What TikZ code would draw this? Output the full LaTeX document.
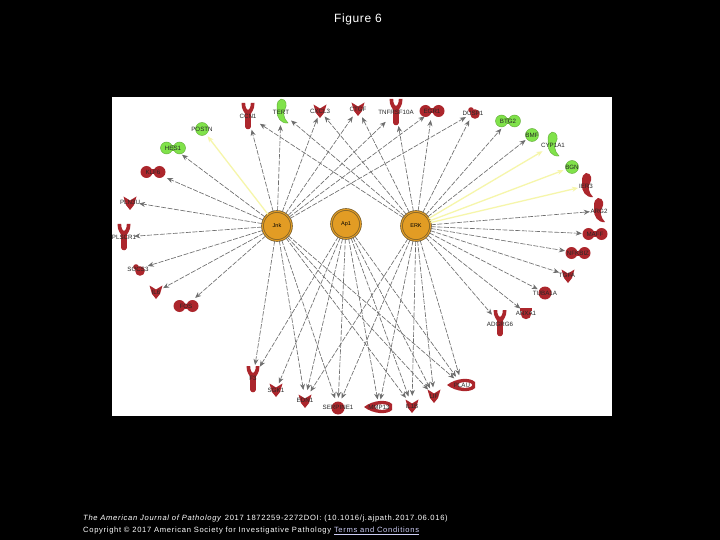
\documentclass[tikz,border=0pt]{standalone}
\usepackage{fontspec}
\setmainfont{Liberation Sans}
\usepackage{xcolor}
\usetikzlibrary{arrows.meta}
\definecolor{genered}{RGB}{172,38,44}
\definecolor{genegreen}{RGB}{128,226,74}
\definecolor{hubfill}{RGB}{226,156,36}
\definecolor{hubring}{RGB}{128,98,40}
\definecolor{softyellow}{RGB}{246,246,170}
\definecolor{arrgray}{RGB}{110,110,110}
\definecolor{linklav}{RGB}{205,205,245}

\begin{document}
\begin{tikzpicture}[x=1pt,y=-1pt,
  hub/.style={circle,draw=hubring,double=hubfill,double distance=1pt,line width=0.8pt,fill=hubfill,minimum size=29pt,inner sep=0pt,font=\fontsize{5.5}{6}\selectfont},
  gene/.style={circle,minimum size=#1,inner sep=0pt},
  lbl/.style={font=\fontsize{6.2}{7}\selectfont,text=black!85,inner sep=0pt},
  red/.style={fill=genered},
  grn/.style={fill=genegreen,draw=genegreen!75!black,line width=0.4pt},
  arr/.style={-{Stealth[length=6pt,width=5pt]},arrgray,line width=0.65pt,dash pattern=on 5pt off 1.5pt},
  yarr/.style={-{Stealth[length=6pt,width=5pt]},softyellow,line width=1.3pt},
  foot/.style={anchor=west,inner sep=0pt,text=white,font=\fontsize{7.6}{9}\selectfont\addfontfeature{LetterSpace=9}},
  ystem/.pic={\path[pic actions] (-6.5,-13) .. controls (-6.5,-6) and (-3.5,-4) .. (-2.8,-2) -- (-2.8,11) .. controls (-2.5,14) and (2.5,14) .. (2.8,11) -- (2.8,-2) .. controls (3.5,-4) and (6.5,-6) .. (6.5,-13) -- (2.8,-13) .. controls (2.8,-8) and (1,-6) .. (0,-6) .. controls (-1,-6) and (-2.8,-8) .. (-2.8,-13) -- cycle;},
  vee/.pic={\path[pic actions] (-6.5,-6.5) -- (0,-2.5) -- (6.5,-6.5) -- (4,2) -- (0,7) -- (-4,2) -- cycle;},
  crescent/.pic={\path[pic actions] (0,-13) .. controls (6,-13) and (6,-6) .. (4,-3) .. controls (2,0) and (2,6) .. (7,11) .. controls (0,12) and (-5,5) .. (-4,-2) .. controls (-3,-5) and (-6,-10) .. (0,-13) -- cycle;},
  dimer/.pic={\path[pic actions] (-6.5,-2.5) rectangle (6.5,2.5); \path[pic actions] (-6.5,0) circle[radius=6]; \path[pic actions] (6.5,0) circle[radius=6];},
  blob/.pic={\path[pic actions] (0,0) circle[radius=6.5];},
  knob/.pic={\path[pic actions] (1,1) circle[radius=4.8]; \path[pic actions] (-3,-3) circle[radius=2.8];},
  capped/.pic={\path[pic actions] (0,1) circle[radius=5.2]; \path[pic actions] (-6,-5) rectangle (6,-2);},
  lens/.pic={\path[pic actions] (-15,0) .. controls (-6,-7) and (8,-8) .. (13,-3) -- (13,3) .. controls (8,8) and (-6,7) .. (-15,0) -- cycle; \fill[white] (3,0) ellipse[x radius=7,y radius=2.8];}
]
\useasboundingbox (0,0) rectangle (720,540);
\fill[black] (0,0) rectangle (720,540);
\fill[white] (112,97) rectangle (612,416);
\node[text=white,font=\fontsize{12}{14}\selectfont\addfontfeature{LetterSpace=5},inner sep=0pt] (title) at (358,19) {Figure 6};

% hubs
\node[hub] (jnk) at (277,226) {Jnk};
\node[hub] (ap1) at (346,224) {Ap1};
\node[hub] (erk) at (416,226) {ERK};

% genes along the top
\pic[grn] at (202,129) {blob};
\node[gene=18pt,label={[lbl]center:POSTN}] (postn) at (202,129) {};
\pic[grn] at (173,148) {dimer};
\node[gene=22pt,label={[lbl]center:HES1}] (hes1) at (173,148) {};
\pic[red] at (153,172) {dimer};
\node[gene=30pt,label={[lbl]center:KLF6}] (klf6) at (153,172) {};
\pic[red] at (248,116) {ystem};
\node[gene=28pt,label={[lbl]center:CCN1}] (ccn1) at (248,116) {};
\pic[grn] at (281,112) {crescent};
\node[gene=26pt,label={[lbl]center:TERT}] (tert) at (281,112) {};
\pic[red] at (320,111) {vee};
\node[gene=14pt,label={[lbl]center:CXCL3}] (cxcl3) at (320,111) {};
\pic[red] at (358,109) {vee};
\node[gene=18pt,label={[lbl]center:CTGF}] (ctgf) at (358,109) {};
\pic[red] at (396,112) {ystem};
\node[gene=28pt,label={[lbl]center:TNFRSF10A}] (tnfrsf) at (396,112) {};
\pic[red] at (432,111) {dimer};
\node[gene=18pt,label={[lbl]center:EGR1}] (egr1) at (432,111) {};
\pic[red] at (474,113) {knob};
\node[gene=16pt,label={[lbl]center:DUSP1}] (dusp1) at (473,113) {};

% genes on the right
\pic[grn] at (508,121) {dimer};
\node[gene=20pt,label={[lbl]center:BTG2}] (btg2) at (508,121) {};
\pic[grn] at (532,135) {blob};
\node[gene=16pt,label={[lbl]center:BMF}] (bmf) at (532,135) {};
\pic[grn] at (552,145) {crescent};
\node[gene=24pt,label={[lbl]center:CYP1A1}] (cyp1a1) at (553,145) {};
\pic[grn] at (572,167) {blob};
\node[gene=18pt,label={[lbl]center:BGN}] (bgn) at (572,167) {};
\pic[red] at (586,186) {crescent};
\node[gene=16pt,label={[lbl]center:IER3}] (ier3) at (586,186) {};
\pic[red] at (598,211) {crescent};
\node[gene=18pt,label={[lbl]center:ARG2}] (arg2) at (599,211) {};
\pic[red] at (595,234) {dimer};
\node[gene=26pt,label={[lbl]center:MAFF}] (maff) at (595,234) {};
\pic[red] at (578,253) {dimer};
\node[gene=26pt,label={[lbl]center:NFKBIZ}] (nfkbiz) at (578,253) {};
\pic[red] at (568,276) {vee};
\node[gene=16pt,label={[lbl]center:TGFA}] (tgfa) at (567,275) {};
\pic[red] at (545,293) {blob};
\node[gene=16pt,label={[lbl]center:TUBA1A}] (tuba1a) at (545,293) {};
\pic[red] at (526,313) {capped};
\node[gene=14pt,label={[lbl]center:ANXA1}] (anxa1) at (526,313) {};
\pic[red] at (500,323) {ystem};
\node[gene=24pt,label={[lbl]center:ADGRG6}] (adgrg6) at (500,324) {};

% genes along the bottom
\pic[red] at (462,385) {lens};
\node[gene=20pt,label={[lbl]center:PLAU}] (plau) at (462,385) {};
\pic[red] at (434,396) {vee};
\node[gene=17pt,label={[lbl]center:LIF}] (lif) at (434,396) {};
\pic[red] at (412,406) {vee};
\node[gene=20pt,label={[lbl]center:IL1B}] (il1b) at (412,406) {};
\pic[red] at (379,407) {lens};
\node[gene=15pt,label={[lbl]center:MMP13}] (mmp13) at (379,407) {};
\pic[red] at (338,408) {blob};
\node[gene=18pt,label={[lbl]center:SERPINE1}] (serpine1) at (338,407) {};
\pic[red] at (305,401) {vee};
\node[gene=20pt,label={[lbl]center:EDN1}] (edn1) at (305,400) {};
\pic[red] at (276,390) {vee};
\node[gene=14pt,label={[lbl]center:SGK1}] (sgk1) at (276,390) {};
\pic[red] at (253,379) {ystem};
\node[gene=26pt,label={[lbl]center:F3}] (f3) at (253,378) {};

% genes on the left
\pic[red] at (186,306) {dimer};
\node[gene=24pt,label={[lbl]center:FOS}] (fos) at (186,306) {};
\pic[red] at (156,292) {vee};
\node[gene=16pt,label={[lbl]center:IL6}] (il6) at (156,292) {};
\pic[red] at (139,270) {knob};
\node[gene=20pt,label={[lbl]center:SOCS3}] (socs3) at (138,269) {};
\pic[red] at (124,237) {ystem};
\node[gene=20pt,label={[lbl]center:PLSCR1}] (plscr1) at (124,237) {};
\pic[red] at (130,203) {vee};
\node[gene=18pt,label={[lbl]center:PLN3U}] (pln3u) at (130,202) {};

% connectors
\draw[yarr] (jnk) -- (postn);
\draw[yarr] (erk) -- (cyp1a1);
\draw[yarr] (erk) -- (bgn);
\draw[yarr] (erk) -- (ier3);
\foreach \t in {hes1,klf6,pln3u,plscr1,socs3,il6,fos,ccn1,tert,cxcl3,ctgf,tnfrsf,egr1,dusp1,f3,edn1,serpine1,il1b,lif,plau}
  \draw[arr] (jnk) -- (\t);
\foreach \t in {f3,sgk1,edn1,serpine1,mmp13,il1b,lif,plau}
  \draw[arr] (ap1) -- (\t);
\foreach \t in {ccn1,tert,cxcl3,ctgf,tnfrsf,egr1,dusp1,btg2,bmf,arg2,maff,nfkbiz,tgfa,tuba1a,anxa1,adgrg6,edn1,serpine1,mmp13,il1b,lif,plau}
  \draw[arr] (erk) -- (\t);

% caption
\node[foot] (cite) at (83,519) {\textit{The American Journal of Pathology} 2017 1872259-2272DOI: (10.1016/j.ajpath.2017.06.016)};
\node[foot] (copy) at (83,531) {Copyright © 2017 American Society for Investigative Pathology \textcolor{linklav}{\underline{Terms and Conditions}}};
\end{tikzpicture}
\end{document}
